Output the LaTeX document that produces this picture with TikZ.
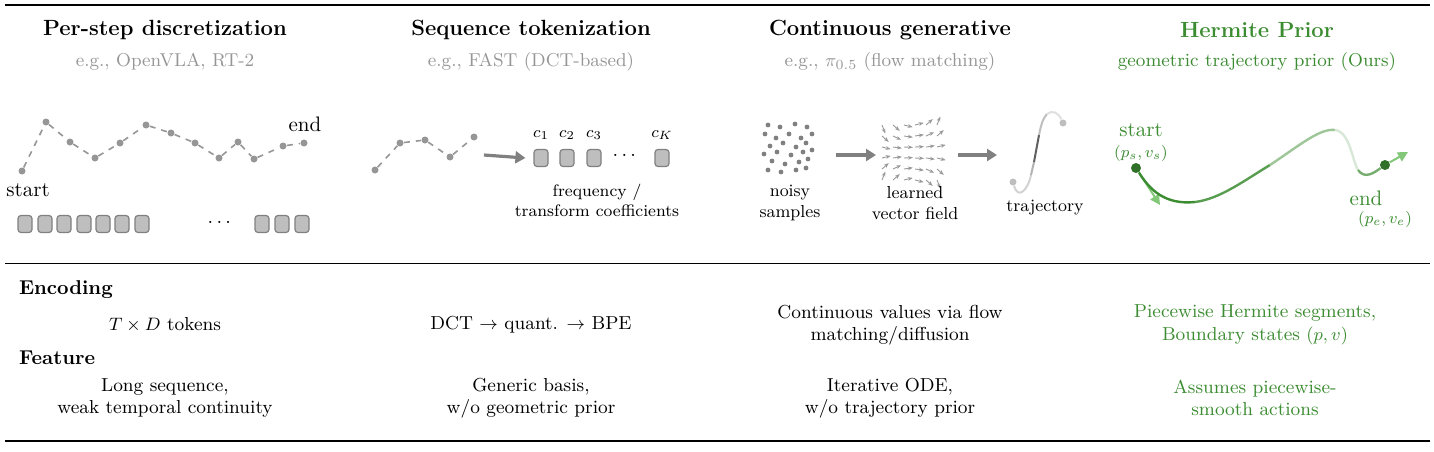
\documentclass[tikz,border=0pt]{standalone}
\usepackage{amsmath}
\usepackage{amssymb}
\usepackage{tikz}
\usetikzlibrary{arrows.meta,positioning}
\definecolor{hgreen}{RGB}{60,140,50}
\definecolor{lgreen}{RGB}{130,200,120}
\definecolor{tgray}{RGB}{150,150,150}
\definecolor{bgray}{RGB}{190,190,190}
\tikzset{
	head/.style={font=\fontsize{11}{13}\selectfont\bfseries},
	sub/.style={font=\fontsize{9.3}{11}\selectfont, text=tgray},
	body/.style={font=\fontsize{9.4}{11.2}\selectfont, align=center},
	small/.style={font=\fontsize{8.3}{10}\selectfont, align=center},
	tok/.style={draw=gray, fill=bgray, rounded corners=1.5pt, minimum width=7pt, minimum height=8.5pt, inner sep=0pt, line width=0.6pt},
	pt/.style={circle, fill=tgray, inner sep=0pt, minimum size=3.5pt},
	fat/.style={-{Triangle[length=5pt,width=6pt]}, gray, line width=1.6pt},
}
\begin{document}
\begin{tikzpicture}[x=0.5pt,y=-0.5pt]
	\useasboundingbox (0,0) rectangle (1434,451);
	\draw[line width=0.9pt] (5,5) -- (1430,5);
	\draw[line width=0.4pt] (5,263) -- (1430,263);
	\draw[line width=0.9pt] (5,441) -- (1430,441);
	% headings
	\node[head] (h1) at (165,30) {Per-step discretization};
	\node[head] (h2) at (531,30) {Sequence tokenization};
	\node[head] (h3) at (890,30) {Continuous generative};
	\node[head, text=hgreen] (h4) at (1257,30) {Hermite Prior};
	\node[sub] (s1) at (165,62) {e.g., OpenVLA, RT-2};
	\node[sub] (s2) at (531,62) {e.g., FAST (DCT-based)};
	\node[sub] (s3) at (890,62) {e.g., $\pi_{0.5}$ (flow matching)};
	\node[sub, text=hgreen] (s4) at (1257,62) {geometric trajectory prior (Ours)};
	% per-step
	\foreach \x/\y [count=\i] in {22/171,46/122,70/142,95/158,120/143,146/125,171/133,195/143,219/158,238/142,254/159,283/146,304/143}
		\node[pt] (a\i) at (\x,\y) {};
	\foreach \i [evaluate=\i as \j using int(\i+1)] in {1,...,12}
		\draw[tgray, dashed, line width=0.8pt] (a\i) -- (a\j);
	\node[font=\fontsize{10.5}{12}\selectfont] (lend) at (305,124) {end};
	\node[font=\fontsize{10.5}{12}\selectfont] (lstart) at (28,190) {start};
	\foreach \x [count=\i] in {25,45,64,84,103,122,142,262,282,302}
		\node[tok] (t\i) at (\x,224) {};
	\node (tdots) at (221,222) {$\dots$};
	% sequence tokenization
	\foreach \x/\y [count=\i] in {375/170,400/143,425/140,450/157,474/137}
		\node[pt] (b\i) at (\x,\y) {};
	\foreach \i [evaluate=\i as \j using int(\i+1)] in {1,...,4}
		\draw[tgray, dashed, line width=0.8pt] (b\i) -- (b\j);
	\coordinate (ar1) at (484,155);
	\node[tok] (c1) at (541,158) {};
	\node[tok] (c2) at (567,158) {};
	\node[tok] (c3) at (594,158) {};
	\node (cdots) at (626,155) {$\dots$};
	\node[tok] (cK) at (662,158) {};
	\draw[fat] (ar1) -- ([xshift=-4pt]c1.west);
	\foreach \n/\l in {c1/1,c2/2,c3/3,cK/K}
		\node[small, above=1pt of \n] {$c_{\l}$};
	\node[small] (freq) at (597,200) {frequency /\\transform coefficients};
	% continuous generative
	\foreach \x/\y in {768/125,780/127,795/124,807/127,765/134,776/138,789/134,801/138,812/134,770/146,783/143,796/147,806/143,764/154,777/152,791/155,803/152,812/150,772/161,785/164,799/162,808/159,768/170,781/172,796/170,806/168}
		\fill[gray] (\x,\y) circle (1.2pt);
	\coordinate (ns) at (836,155);
	\coordinate (vf1) at (876,155);
	\draw[fat] (ns) -- (vf1);
	\foreach \i in {0,...,5}
		\foreach \j in {0,...,5}
			\draw[gray!80, -{Stealth[length=2.5pt]}, line width=0.45pt]
				({882+11*\i},{125+11*\j}) -- ++({9*cos((\i-2.5)*(\j-2.5)*11)}, {9*sin((\i-2.5)*(\j-2.5)*11)});
	\coordinate (vf2) at (958,155);
	\coordinate (tr) at (997,155);
	\draw[fat] (vf2) -- (tr);
	\node[pt, fill=bgray] (tr1) at (1013,182) {};
	\node[pt, fill=bgray] (tr2) at (1063,123) {};
	\draw[gray!35, line width=1pt] (tr1) .. controls (1018,200) and (1028,190) .. (1031,175);
	\draw[gray!60, line width=1pt] (1031,175) -- (1034,162);
	\draw[gray!75!black, line width=1pt] (1034,162) -- (1039,135);
	\draw[gray!50, line width=1pt] (1039,135) .. controls (1041,125) and (1043,118) .. (1047,114);
	\draw[gray!25, line width=1pt] (1047,114) .. controls (1052,110) and (1058,112) .. (tr2);
	\node[small, font=\fontsize{8.7}{10.5}\selectfont] (lns) at (790,203) {noisy\\samples};
	\node[small, font=\fontsize{8.7}{10.5}\selectfont] (lvf) at (915,203) {learned\\vector field};
	\node[small, font=\fontsize{8.7}{10.5}\selectfont] (ltr) at (1045,208) {trajectory};
	% hermite
	\node[circle, fill=hgreen!80!black, inner sep=0pt, minimum size=5pt] (hs) at (1136,168) {};
	\node[circle, fill=hgreen!80!black, inner sep=0pt, minimum size=5pt] (he) at (1385,165) {};
	\coordinate (hsv) at (1160,205);
	\coordinate (hev) at (1408,152);
	\draw[lgreen, line width=1pt, -{Triangle[length=5pt,width=5pt]}] (hs) -- (hsv);
	\draw[lgreen, line width=1pt, -{Triangle[length=5pt,width=5pt]}] (he) -- (hev);
	\draw[hgreen, line width=1.2pt] (hs) .. controls (1150,190) and (1165,205) .. (1195,202);
	\draw[hgreen!85, line width=1.2pt] (1195,202) .. controls (1220,199) and (1245,180) .. (1270,165);
	\draw[hgreen!50, line width=1.2pt] (1270,165) .. controls (1300,145) and (1320,128) .. (1335,130);
	\draw[hgreen!20, line width=1.2pt] (1335,130) .. controls (1350,132) and (1352,160) .. (1358,170);
	\draw[hgreen!70, line width=1.2pt] (1358,170) .. controls (1365,180) and (1375,172) .. (he);
	\node[font=\fontsize{10.5}{12}\selectfont, text=hgreen] (hls) at (1141,130) {start};
	\node[small, text=hgreen] (hlsv) at (1141,153) {$(p_s,v_s)$};
	\node[font=\fontsize{10.5}{12}\selectfont, text=hgreen] (hle) at (1366,198) {end};
	\node[small, text=hgreen] (hlev) at (1385,219) {$(p_e,v_e)$};
	% table
	\node[body, font=\fontsize{10}{12}\selectfont\bfseries, anchor=west] (enc) at (12,290) {Encoding};
	\node[body, font=\fontsize{10}{12}\selectfont\bfseries, anchor=west] (fea) at (12,358) {Feature};
	\node[body] (e1) at (165,325) {$T\times D$ tokens};
	\node[body] (e2) at (531,325) {DCT $\rightarrow$ quant. $\rightarrow$ BPE};
	\node[body] (e3) at (890,325) {Continuous values via flow\\matching/diffusion};
	\node[body, text=hgreen] (e4) at (1255,325) {Piecewise Hermite segments,\\Boundary states $(p,v)$};
	\node[body] (f1) at (165,398) {Long sequence,\\weak temporal continuity};
	\node[body] (f2) at (531,398) {Generic basis,\\w/o geometric prior};
	\node[body] (f3) at (890,398) {Iterative ODE,\\w/o trajectory prior};
	\node[body, text=hgreen] (f4) at (1255,398) {Assumes piecewise-\\smooth actions};
\end{tikzpicture}
\end{document}
